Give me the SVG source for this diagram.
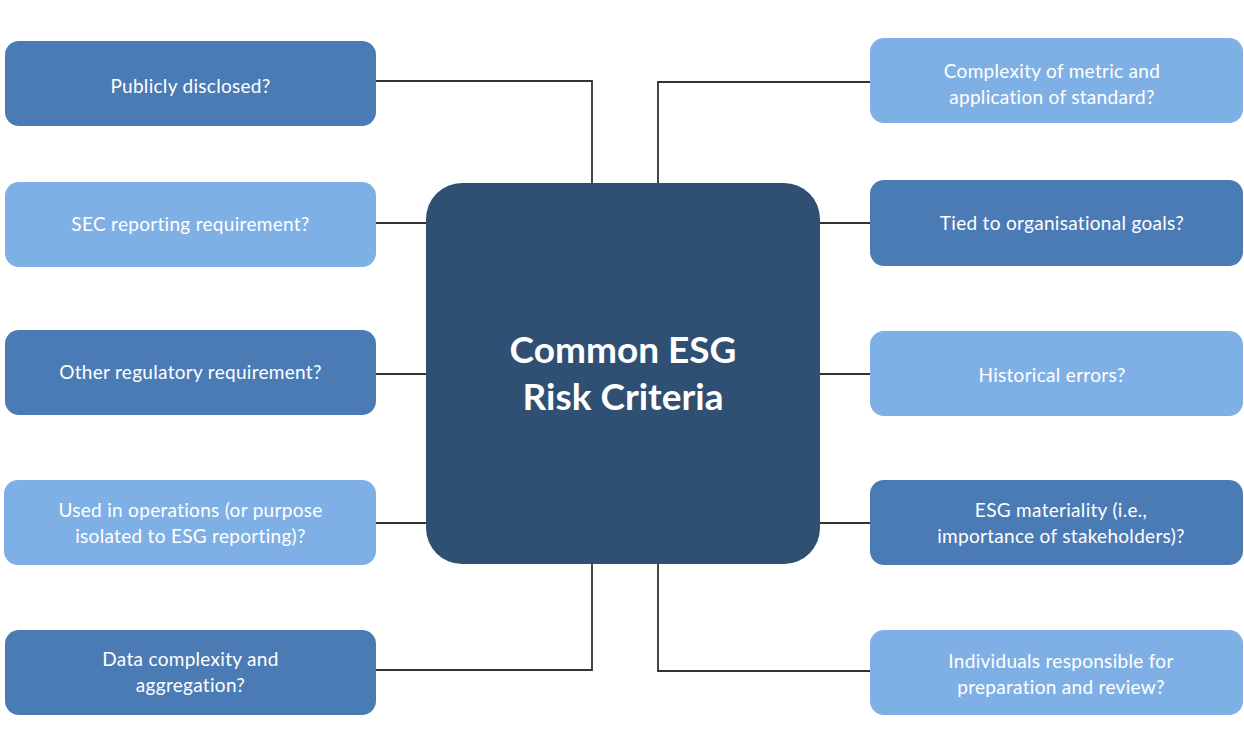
<svg xmlns="http://www.w3.org/2000/svg" width="1244" height="749" viewBox="0 0 1244 749">
<style>
.dark{fill:#4b7bb5}
.light{fill:#7fb0e5}
.center{fill:#2f5072}
.t{font-family:Lato,"Liberation Sans",sans-serif;font-size:19px;letter-spacing:0.3px;fill:#ffffff;text-anchor:middle}
.title{font-family:Lato,"Liberation Sans",sans-serif;font-size:37px;font-weight:bold;fill:#ffffff;text-anchor:middle}
.c{fill:none;stroke:#333333;stroke-width:1.8}
</style>
<rect width="1244" height="749" fill="#ffffff"/>
<g id="connectors">
<polyline class="c" points="376,81 592,81 592,184"/>
<line class="c" x1="376" y1="223" x2="427" y2="223"/>
<line class="c" x1="376" y1="374" x2="427" y2="374"/>
<line class="c" x1="376" y1="523" x2="427" y2="523"/>
<polyline class="c" points="376,670 592,670 592,563"/>
<polyline class="c" points="870,82 658,82 658,184"/>
<line class="c" x1="819" y1="223" x2="870" y2="223"/>
<line class="c" x1="819" y1="374" x2="870" y2="374"/>
<line class="c" x1="819" y1="523" x2="870" y2="523"/>
<polyline class="c" points="870,671 658,671 658,563"/>
</g>
<g id="center-node">
<rect class="center" x="426" y="183" width="394" height="381" rx="36"/>
<text class="title" x="623" y="363">Common ESG</text>
<text class="title" x="623" y="410">Risk Criteria</text>
</g>
<g id="publicly-disclosed">
<rect class="dark" x="5" y="41" width="371" height="85" rx="14"/>
<text class="t" x="190.5" y="93">Publicly disclosed?</text>
</g>
<g id="sec-reporting">
<rect class="light" x="5" y="182" width="371" height="85" rx="14"/>
<text class="t" x="190.5" y="231">SEC reporting requirement?</text>
</g>
<g id="other-regulatory">
<rect class="dark" x="5" y="330" width="371" height="85" rx="14"/>
<text class="t" x="190.5" y="379">Other regulatory requirement?</text>
</g>
<g id="used-in-operations">
<rect class="light" x="4" y="480" width="372" height="85" rx="14"/>
<text class="t" x="190.5" y="517">Used in operations (or purpose</text>
<text class="t" x="190.5" y="543">isolated to ESG reporting)?</text>
</g>
<g id="data-complexity">
<rect class="dark" x="5" y="630" width="371" height="85" rx="14"/>
<text class="t" x="190.5" y="666">Data complexity and</text>
<text class="t" x="190.5" y="692">aggregation?</text>
</g>
<g id="complexity-metric">
<rect class="light" x="870" y="38" width="373" height="85" rx="14"/>
<text class="t" x="1052" y="78">Complexity of metric and</text>
<text class="t" x="1052" y="104">application of standard?</text>
</g>
<g id="tied-goals">
<rect class="dark" x="870" y="180" width="373" height="86" rx="14"/>
<text class="t" x="1062" y="230">Tied to organisational goals?</text>
</g>
<g id="historical-errors">
<rect class="light" x="870" y="331" width="373" height="85" rx="14"/>
<text class="t" x="1052" y="382">Historical errors?</text>
</g>
<g id="esg-materiality">
<rect class="dark" x="870" y="480" width="373" height="85" rx="14"/>
<text class="t" x="1061" y="517">ESG materiality (i.e.,</text>
<text class="t" x="1061" y="543">importance of stakeholders)?</text>
</g>
<g id="individuals-responsible">
<rect class="light" x="870" y="630" width="373" height="85" rx="14"/>
<text class="t" x="1061" y="668">Individuals responsible for</text>
<text class="t" x="1061" y="694">preparation and review?</text>
</g>
</svg>
